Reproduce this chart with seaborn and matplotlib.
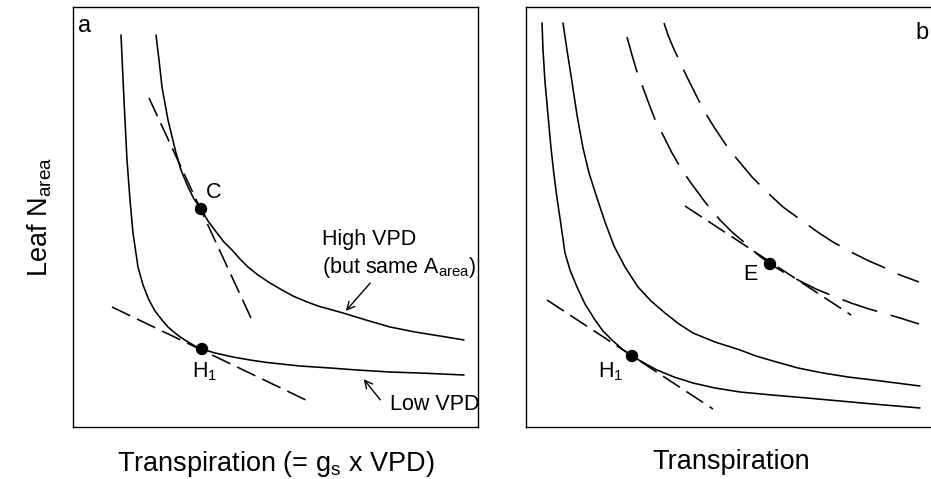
import matplotlib
matplotlib.use("Agg")
import matplotlib.pyplot as plt
import seaborn as sns

# ---------------- data (arbitrary units) ----------------
# Panel a
a_low_x  = [48, 51, 54, 57, 60, 65, 70, 76, 82, 89, 95, 102, 108, 115, 122, 129, 142, 160,
            177, 194, 227, 257, 284, 317, 347, 391]
a_low_y  = [392, 327, 267, 227, 194, 160, 142, 127, 116, 107, 100, 94, 89.5, 85, 81, 78, 74, 70,
            67, 64.5, 61, 59, 57, 55, 54, 52]
a_high_x = [83, 86, 89, 95, 103, 108, 115, 121, 128, 135, 144, 151, 159, 167, 175, 185, 197,
            209, 221, 233, 245, 270, 293, 317, 342, 367, 391]
a_high_y = [392, 367, 340, 307, 274, 257, 240, 228, 218, 206, 194, 185, 177, 168, 160, 152, 144,
            137, 130.5, 125.5, 121, 114, 107, 100, 95, 91, 87]
a_tanC_x = [76, 178]
a_tanC_y = [329, 109]
a_tanH_x = [39, 237]
a_tanH_y = [120, 25]
a_pts_x = [128, 129]
a_pts_y = [218, 78]
a_pts_lab = ["C", "H$_1$"]

# Panel b
b_sol1_x = [16, 17, 19, 22, 25, 28, 31, 35, 39, 44, 51, 59, 69, 77, 86, 96, 106, 118, 131, 148,
            167, 189, 214, 246, 281, 314, 347, 394]
b_sol1_y = [404, 377, 345, 312, 279, 252, 229, 202, 174, 157, 140, 123, 107, 96, 87, 78, 71, 64,
            57, 50, 44, 39, 35, 32, 29, 26, 23, 19]
b_sol2_x = [37, 41, 46, 51, 57, 63, 71, 79, 88, 99, 112, 125, 139, 153, 167, 189, 214, 230, 247,
            272, 297, 322, 347, 394]
b_sol2_y = [404, 377, 345, 312, 279, 254, 229, 205, 181, 160, 140, 126, 114, 103, 94, 85, 77, 71,
            66, 59, 54, 50, 47, 41]
b_das1_x = [101, 106, 111, 116, 123, 130, 137, 146, 156, 165, 179, 194, 206, 219, 231, 244, 259,
            274, 290, 307, 325, 343, 357, 374, 393]
b_das1_y = [390, 372, 355, 342, 323, 305, 292, 274, 257, 244, 225, 207, 195, 184, 173, 163, 154,
            146, 138, 131, 124, 118, 114, 109, 103]
b_das2_x = [138, 142, 147, 153, 161, 170, 177, 188, 200, 211, 226, 242, 257, 275, 293, 307, 325,
            343, 357, 374, 393]
b_das2_y = [404, 392, 380, 367, 350, 332, 318, 300, 282, 268, 250, 234, 220, 207, 194, 185, 175,
            166, 160, 152, 145]
b_tanE_x = [159, 325]
b_tanE_y = [221, 112]
b_tanH_x = [21, 187]
b_tanH_y = [127, 18]
b_pts_x = [244, 106]
b_pts_y = [163, 71]
b_pts_lab = ["E", "H$_1$"]

xlabel_a = "Transpiration (= g$_s$ x VPD)"
xlabel_b = "Transpiration"
ylabel = "Leaf N$_{area}$"

# ---------------- style ----------------
sns.set_theme(style="white")
plt.rcParams["font.family"] = ["Liberation Sans", "DejaVu Sans"]
plt.rcParams["mathtext.default"] = "regular"
plt.rcParams["lines.scale_dashes"] = False
plt.rcParams["text.color"] = "black"
plt.rcParams["axes.labelcolor"] = "black"

W, H = 931, 479
fig = plt.figure(figsize=(W / 100, H / 100), dpi=100)

def add_ax(left, top, width, height):
    return fig.add_axes([left / W, (H - top - height) / H, width / W, height / H])

ax_a = add_ax(73, 7, 405, 420)
ax_b = add_ax(526, 7, 410, 420)

curve_ls = (0, (26.5, 10.0))
tan_ls = (0, (14.5, 5.5))
lw = 1.15

def line(ax, x, y, ls="-"):
    sns.lineplot(x=x, y=y, ax=ax, sort=False, estimator=None, color="black",
                 lw=lw, linestyle=ls, solid_joinstyle="round")

# Panel a
line(ax_a, a_low_x, a_low_y)
line(ax_a, a_high_x, a_high_y)
line(ax_a, a_tanC_x, a_tanC_y, tan_ls)
line(ax_a, a_tanH_x, a_tanH_y, tan_ls)
sns.scatterplot(x=a_pts_x, y=a_pts_y, ax=ax_a, color="black", s=80, edgecolor="none", zorder=5)

# Panel b
line(ax_b, b_sol1_x, b_sol1_y)
line(ax_b, b_sol2_x, b_sol2_y)
line(ax_b, b_das1_x, b_das1_y, curve_ls)
line(ax_b, b_das2_x, b_das2_y, curve_ls)
line(ax_b, b_tanE_x, b_tanE_y, tan_ls)
line(ax_b, b_tanH_x, b_tanH_y, tan_ls)
sns.scatterplot(x=b_pts_x, y=b_pts_y, ax=ax_b, color="black", s=80, edgecolor="none", zorder=5)

for ax, xmax in ((ax_a, 405), (ax_b, 410)):
    ax.set_xlim(0, xmax)
    ax.set_ylim(0, 420)
    ax.set_xticks([])
    ax.set_yticks([])
    for sp in ax.spines.values():
        sp.set_color("black")
        sp.set_linewidth(1.0)

fs_in = 15.5
# point labels
ax_a.text(141, 235, a_pts_lab[0], fontsize=fs_in, ha="center", va="center")
ax_a.text(119, 55, a_pts_lab[1], fontsize=fs_in, ha="left", va="center")
ax_b.text(224, 152, b_pts_lab[0], fontsize=fs_in, ha="center", va="center")
ax_b.text(72, 55, b_pts_lab[1], fontsize=fs_in, ha="left", va="center")

# panel letters
ax_a.text(5, 401, "a", fontsize=17, ha="left", va="center")
ax_b.text(389, 394, "b", fontsize=17, ha="left", va="center")

# curve annotations
ax_a.text(249, 187, "High VPD", fontsize=fs_in, ha="left", va="center")
ax_a.text(249, 160, "(but same A$_{area}$)", fontsize=fs_in, ha="left", va="center")
ax_a.annotate("", xy=(271, 114), xytext=(299, 146),
              arrowprops=dict(arrowstyle="->", color="black", lw=1.0, mutation_scale=14))
ax_a.text(317, 22, "Low VPD", fontsize=fs_in, ha="left", va="center")
ax_a.annotate("", xy=(289, 50), xytext=(309, 25),
              arrowprops=dict(arrowstyle="->", color="black", lw=1.0, mutation_scale=14))

# axis labels
ax_a.set_xlabel(xlabel_a, fontsize=19.5, labelpad=16)
ax_b.set_xlabel(xlabel_b, fontsize=19.5, labelpad=16)
ax_a.set_ylabel(ylabel, fontsize=19.5, labelpad=14)

fig.savefig("out.png", dpi=100)
